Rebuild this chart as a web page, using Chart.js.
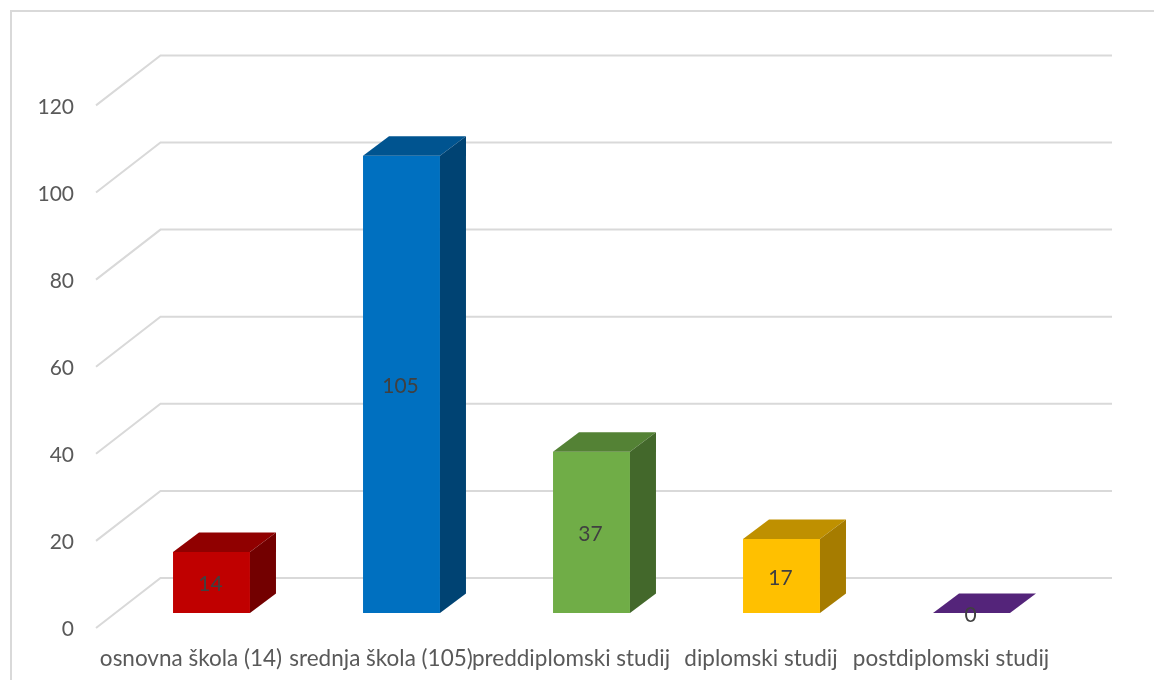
<!DOCTYPE html>
<html>
<head>
<meta charset="utf-8">
<title>Razina obrazovanja</title>
<script src="https://cdn.jsdelivr.net/npm/chart.js@4/dist/chart.umd.min.js"></script>
<style>
  html, body { margin: 0; padding: 0; background: #fff; overflow: hidden; }
  canvas { display: block; }
</style>
</head>
<body>
<canvas id="barChart" width="1154" height="680"></canvas>
<script>
  'use strict';

  var categories = ['osnovna škola (14)', 'srednja škola (105)', 'preddiplomski studij', 'diplomski studij', 'postdiplomski studij'];
  var seriesValues = [14, 105, 37, 17, 0];
  var frontColors = ['#c00000', '#0070c0', '#70ad47', '#ffc000', '#7030a0'];
  var topColors = ['#900000', '#005490', '#548235', '#bf9000', '#54247a'];
  var sideColors = ['#730000', '#004373', '#43682b', '#a67c00', '#431c60'];

  var FONT = 'Lato, Carlito, sans-serif';
  var GRID = '#d9d9d9';

  // fake 3d: bars get a small depth, the wall sits further back
  var BAR_DX = 26, BAR_DY = -19.5;

  var wallPlugin = {
    id: 'wall',
    beforeDatasetsDraw: function(chart) {
      var ctx = chart.ctx;
      var yScale = chart.scales.y;
      var area = chart.chartArea;
      ctx.save();
      ctx.strokeStyle = GRID;
      ctx.lineWidth = 2;
      // outer frame, runs off the right and bottom edge
      ctx.strokeRect(11, 11, 1200, 720);
      yScale.ticks.forEach(function(tick) {
        var py = yScale.getPixelForValue(tick.value);
        ctx.beginPath();
        ctx.moveTo(area.left - 20.5, py + 15);
        ctx.lineTo(area.left + 44, py - 35);
        ctx.lineTo(area.right + 45.5, py - 35);
        ctx.stroke();
      });
      ctx.restore();
    }
  };

  var depthPlugin = {
    id: 'depth',
    afterDatasetsDraw: function(chart) {
      var ctx = chart.ctx;
      var bars = chart.getDatasetMeta(0).data;
      ctx.save();
      bars.forEach(function(bar, i) {
        var left = bar.x - bar.width / 2;
        var right = bar.x + bar.width / 2;
        ctx.fillStyle = topColors[i];
        ctx.beginPath();
        ctx.moveTo(left, bar.y);
        ctx.lineTo(left + BAR_DX, bar.y + BAR_DY);
        ctx.lineTo(right + BAR_DX, bar.y + BAR_DY);
        ctx.lineTo(right, bar.y);
        ctx.closePath();
        ctx.fill();
        ctx.fillStyle = sideColors[i];
        ctx.beginPath();
        ctx.moveTo(right, bar.y);
        ctx.lineTo(right + BAR_DX, bar.y + BAR_DY);
        ctx.lineTo(right + BAR_DX, bar.base + BAR_DY);
        ctx.lineTo(right, bar.base);
        ctx.closePath();
        ctx.fill();
      });
      // value labels
      ctx.font = '21px ' + FONT;
      ctx.fillStyle = '#404040';
      ctx.textAlign = 'center';
      ctx.textBaseline = 'middle';
      bars.forEach(function(bar, i) {
        ctx.fillText(String(seriesValues[i]), bar.x - 1, (bar.y + bar.base) / 2 + 2);
      });
      ctx.restore();
    }
  };

  var barChartCanvas = document.getElementById('barChart').getContext('2d');
  var barChart = new Chart(barChartCanvas, {
    type: 'bar',
    data: {
      labels: categories,
      datasets: [{
        data: seriesValues,
        backgroundColor: frontColors,
        borderWidth: 0,
        categoryPercentage: 1,
        barPercentage: 0.405
      }]
    },
    options: {
      responsive: false,
      animation: false,
      layout: { padding: { top: 90.4, right: 87.5, left: 0, bottom: 0 } },
      plugins: {
        legend: { display: false },
        tooltip: { enabled: false }
      },
      scales: {
        x: {
          grid: { display: false, drawTicks: false },
          border: { display: false },
          afterFit: function(scale) { scale.height = 67; },
          ticks: {
            autoSkip: false,
            maxRotation: 0,
            minRotation: 0,
            padding: 32,
            labelOffset: -20.5,
            color: '#595959',
            font: { family: FONT, size: 22.5 }
          }
        },
        y: {
          min: 0,
          max: 120,
          grid: { display: false, drawTicks: false },
          border: { display: false },
          afterFit: function(scale) { scale.width = 116.5; },
          ticks: {
            stepSize: 20,
            padding: 42.5,
            labelOffset: 16.5,
            color: '#595959',
            font: { family: FONT, size: 21 }
          }
        }
      }
    },
    plugins: [wallPlugin, depthPlugin]
  });
</script>
</body>
</html>
